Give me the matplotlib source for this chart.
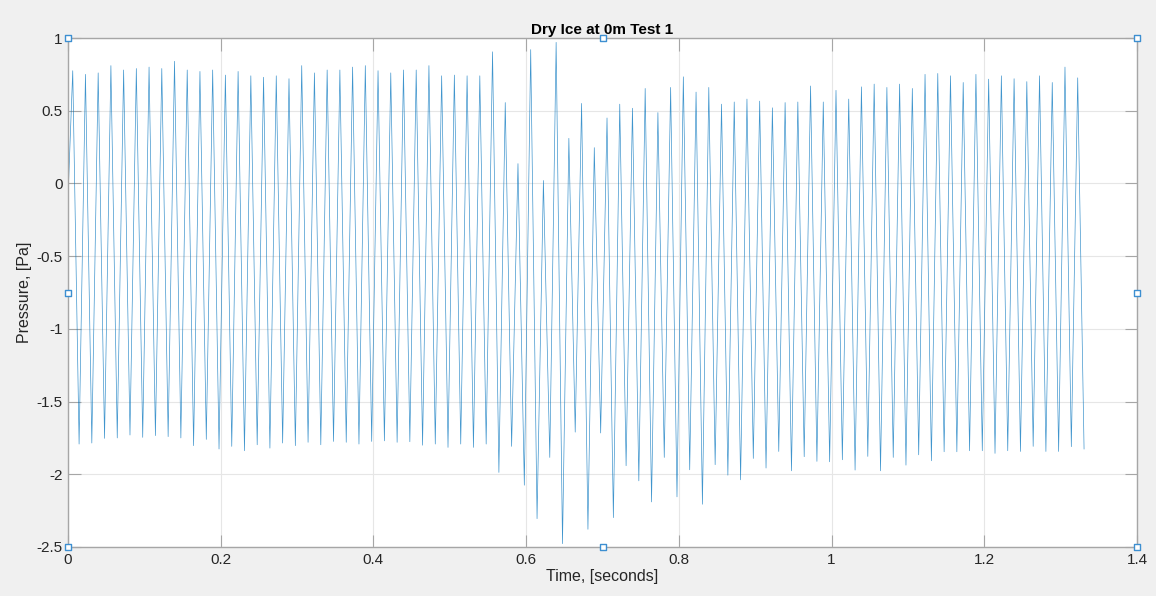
import numpy as np
import matplotlib
matplotlib.use("Agg")
import matplotlib.pyplot as plt

# ---- data ----
title = "Dry Ice at 0m Test 1"
xlabel = "Time, [seconds]"
ylabel = "Pressure, [Pa]"

start_value = -0.1          # value at t = 0
first_peak_time = 0.0062    # s
cycle_period = 0.01666      # s (~60 Hz)

peaks = [0.775, 0.75, 0.76, 0.81, 0.78, 0.79, 0.80, 0.79, 0.84, 0.78,
         0.77, 0.78, 0.745, 0.77, 0.74, 0.73, 0.74, 0.72, 0.81, 0.76,
         0.78, 0.78, 0.80, 0.81, 0.775, 0.76, 0.78, 0.78, 0.81, 0.74,
         0.745, 0.74, 0.74, 0.905, 0.556, 0.136, 0.92, 0.02, 0.97, 0.31,
         0.55, 0.246, 0.45, 0.545, 0.517, 0.653, 0.487, 0.66, 0.733, 0.628,
         0.66, 0.545, 0.56, 0.58, 0.566, 0.52, 0.556, 0.56, 0.67, 0.56,
         0.64, 0.58, 0.664, 0.683, 0.66, 0.683, 0.653, 0.75, 0.756, 0.74,
         0.694, 0.75, 0.717, 0.74, 0.72, 0.70, 0.74, 0.694, 0.80, 0.726]

troughs = [-1.792, -1.785, -1.753, -1.75, -1.73, -1.746, -1.734, -1.741, -1.75, -1.803,
           -1.76, -1.826, -1.808, -1.838, -1.797, -1.82, -1.785, -1.803, -1.78, -1.797,
           -1.774, -1.78, -1.792, -1.774, -1.77, -1.78, -1.776, -1.80, -1.792, -1.815,
           -1.792, -1.815, -1.792, -1.987, -1.808, -2.075, -2.305, -1.884, -2.477, -1.71,
           -2.378, -1.716, -2.298, -1.941, -2.045, -2.19, -1.884, -2.155, -1.969, -2.206,
           -1.934, -2.006, -2.038, -1.891, -1.957, -1.843, -1.976, -1.879, -1.911, -1.914,
           -1.90, -1.971, -1.877, -1.976, -1.884, -1.937, -1.866, -1.907, -1.845, -1.845,
           -1.838, -1.838, -1.856, -1.838, -1.843, -1.808, -1.843, -1.843, -1.81, -1.826]

xticks = [0, 0.2, 0.4, 0.6, 0.8, 1.0, 1.2, 1.4]
xticklabels = ["0", "0.2", "0.4", "0.6", "0.8", "1", "1.2", "1.4"]
yticks = [-2.5, -2, -1.5, -1, -0.5, 0, 0.5, 1]
yticklabels = ["-2.5", "-2", "-1.5", "-1", "-0.5", "0", "0.5", "1"]

# ---- build the sample sequence (alternating peak / trough) ----
n = len(peaks)
t_peak = first_peak_time + cycle_period * np.arange(n)
t_trough = t_peak + cycle_period / 2
t = np.concatenate([[0.0], np.column_stack([t_peak, t_trough]).ravel()])
p = np.concatenate([[start_value], np.column_stack([peaks, troughs]).ravel()])

# ---- figure ----
plt.rcParams['font.family'] = ['Liberation Sans', 'DejaVu Sans']
fig = plt.figure(figsize=(11.56, 5.96), dpi=100, facecolor='#f0f0f0')
ax = fig.add_axes([68/1156, 1-547/596, (1137-68)/1156, (547-38)/596])
ax.set_facecolor('white')

ax.plot(t, p, color='#0072BD', lw=0.5, alpha=0.75)

ax.set_xlim(0, 1.4)
ax.set_ylim(-2.5, 1)
ax.set_xticks(xticks)
ax.set_xticklabels(xticklabels)
ax.set_yticks(yticks)
ax.set_yticklabels(yticklabels)
ax.grid(True, color='#e6e6e6', lw=0.8)
ax.set_axisbelow(True)

for s in ax.spines.values():
    s.set_color('#a6a6a6')
    s.set_linewidth(1.0)
ax.tick_params(direction='in', length=9, width=0.8, color='#a6a6a6',
               labelsize=11, labelcolor='#262626', top=True, right=True, pad=4)

ax.set_title(title, fontsize=11, fontweight='bold', color='black', pad=3)
ax.set_xlabel(xlabel, fontsize=11.5, color='#262626', labelpad=2)
ax.set_ylabel(ylabel, fontsize=11.5, color='#262626', labelpad=3)

# MATLAB selection handles
hx = [0, 0.5, 1, 0, 1, 0, 0.5, 1]
hy = [1, 1, 1, 0.5, 0.5, 0, 0, 0]
ax.scatter(hx, hy, marker='s', s=14, facecolor='white', edgecolor='#3d8fd1',
           linewidth=1.0, transform=ax.transAxes, clip_on=False, zorder=10)

fig.savefig("out.png", dpi=100, facecolor=fig.get_facecolor())
